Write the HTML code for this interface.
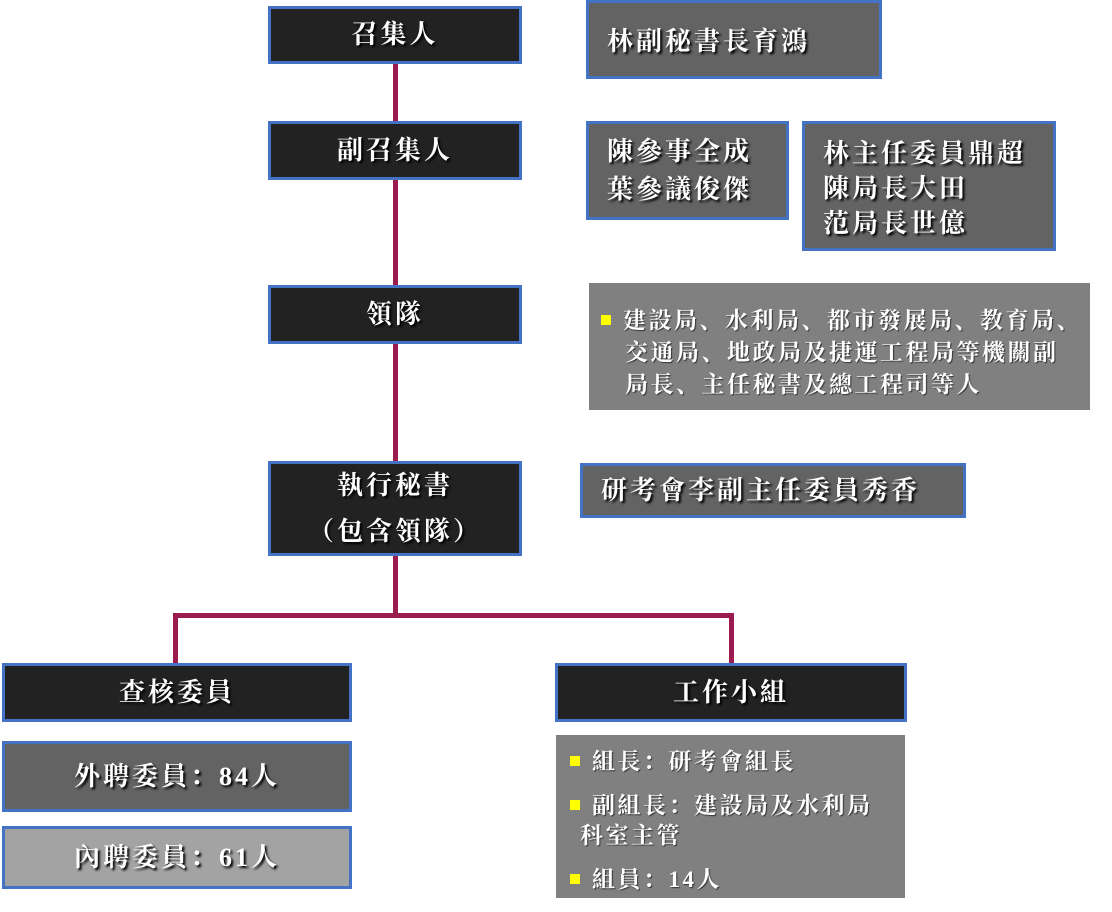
<!DOCTYPE html>
<html><head><meta charset="utf-8"><style>
body{margin:0;width:1112px;height:912px;background:#fff;position:relative;overflow:hidden;font-family:"Liberation Serif","Noto Serif CJK SC","Noto Serif CJK TC",serif;}
.b{position:absolute;box-sizing:border-box;border:3px solid #4472C4;color:#fff;font-weight:bold;text-shadow:2px 2px 2px #000;display:flex;align-items:center;justify-content:center;text-align:center;font-size:26px;letter-spacing:3px;line-height:38px}
.k{background:#222}
.g{background:#636363}
.l{background:#a3a3a3}
.p{position:absolute;background:#808080;color:#fff;font-weight:bold;text-shadow:1px 1px 1px #333;font-size:23px;letter-spacing:2.5px;line-height:32px;box-sizing:border-box}
.sq{display:inline-block;width:10px;height:10px;background:#ff0;margin-right:12px;vertical-align:middle;position:relative;top:-3px}
.ln{position:absolute;background:#9B1B4F}
</style></head><body>
<div class="ln" style="left:393px;top:60px;width:5px;height:556px"></div>
<div class="ln" style="left:173px;top:613px;width:561px;height:5px"></div>
<div class="ln" style="left:173px;top:613px;width:5px;height:52px"></div>
<div class="ln" style="left:729px;top:613px;width:5px;height:52px"></div>

<div class="b k" style="left:268px;top:6px;width:254px;height:58px">召集人</div>
<div class="b g" style="left:586px;top:0;width:296px;height:79px;justify-content:flex-start;padding-left:18px;padding-top:4px">林副秘書長育鴻</div>
<div class="b k" style="left:268px;top:121px;width:254px;height:59px">副召集人</div>
<div class="b g" style="left:586px;top:121px;width:203px;height:99px;justify-content:flex-start;padding-left:18px;text-align:left">陳參事全成<br>葉參議俊傑</div>
<div class="b g" style="left:802px;top:121px;width:254px;height:130px;justify-content:flex-start;padding-left:18px;text-align:left;line-height:35px;align-items:flex-start;padding-top:12px">林主任委員鼎超<br>陳局長大田<br>范局長世億</div>
<div class="b k" style="left:268px;top:285px;width:254px;height:59px">領隊</div>
<div class="p" style="left:589px;top:283px;width:501px;height:127px;padding:22px 0 0 12px;white-space:nowrap;overflow:hidden"><span class="sq"></span>建設局、水利局、都市發展局、教育局、<br><span style="padding-left:24px">交通局、地政局及捷運工程局等機關副</span><br><span style="padding-left:24px">局長、主任秘書及總工程司等人</span></div>
<div class="b k" style="left:268px;top:461px;width:254px;height:95px;line-height:46px">執行秘書<br>（包含領隊）</div>
<div class="b g" style="left:580px;top:463px;width:386px;height:55px;justify-content:flex-start;padding-left:18px">研考會李副主任委員秀香</div>
<div class="b k" style="left:2px;top:663px;width:350px;height:59px">查核委員</div>
<div class="b k" style="left:555px;top:663px;width:352px;height:59px">工作小組</div>
<div class="b g" style="left:2px;top:741px;width:350px;height:71px">外聘委員：84人</div>
<div class="b l" style="left:2px;top:826px;width:350px;height:63px">內聘委員：61人</div>
<div class="p" style="left:556px;top:735px;width:349px;height:163px;padding:12px 0 0 14px;white-space:nowrap;line-height:30px"><span class="sq"></span>組長：研考會組長<div style="height:14px"></div><span class="sq"></span>副組長：建設局及水利局<br><span style="padding-left:22px;margin-left:-12px">科室主管</span><div style="height:14px"></div><span class="sq"></span>組員：14人</div>
</body></html>
